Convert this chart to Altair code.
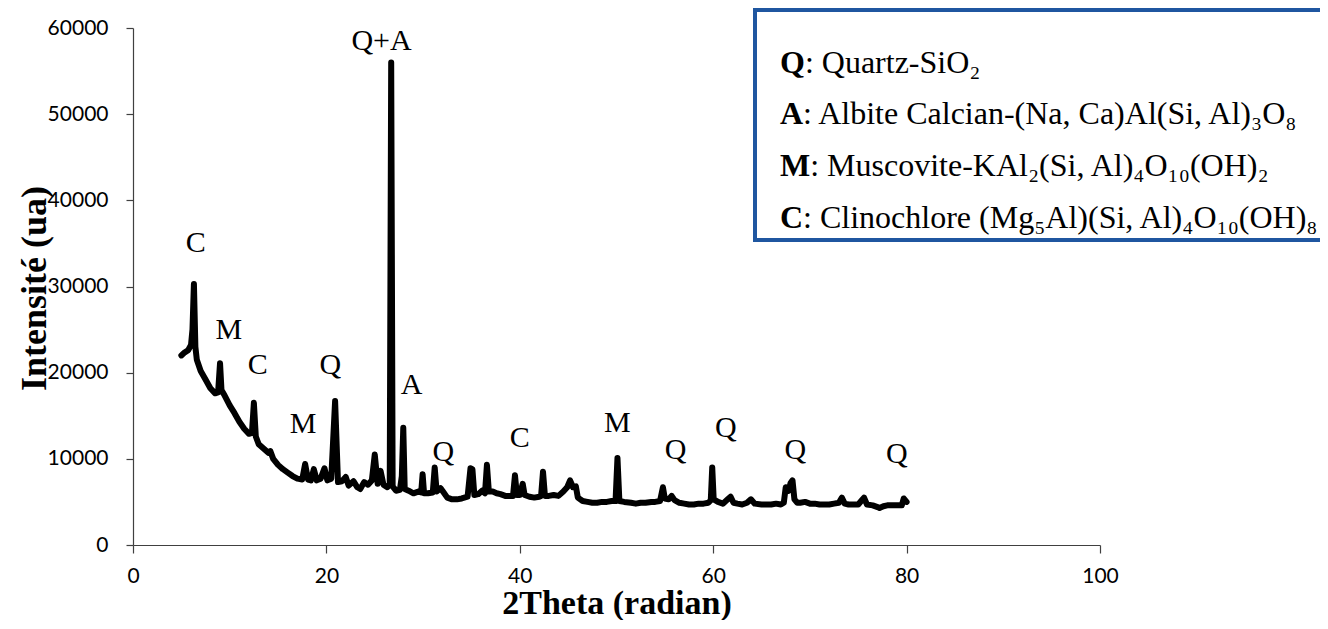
import altair as alt
import pandas as pd

# ---- XRD pattern ----
two_theta = [
    5.0, 5.3, 5.7, 6.0, 6.15, 6.3, 6.45, 6.6, 7.0, 7.5, 8.0, 8.5, 8.8, 9.0, 9.15, 9.4,
    10.0, 10.5, 11.0, 11.5, 12.0, 12.3, 12.5, 12.7, 13.0, 13.5, 14.0, 14.2, 14.5, 15.0,
    15.5, 16.0, 16.5, 17.0, 17.5, 17.8, 18.1, 18.4, 18.7, 19.0, 19.4, 19.8, 20.1, 20.5,
    20.9, 21.2, 21.6, 22.0, 22.3, 22.8, 23.2, 23.5, 23.9, 24.3, 24.7, 25.0, 25.3, 25.6,
    25.9, 26.3, 26.55, 26.7, 26.85, 27.2, 27.6, 27.8, 27.95, 28.1, 28.5, 29.0, 29.5, 29.8,
    29.95, 30.1, 30.5, 31.0, 31.2, 31.4, 31.8, 32.0, 32.5, 33.0, 33.5, 34.0, 34.6, 34.9,
    35.1, 35.3, 35.7, 36.1, 36.4, 36.6, 36.8, 37.2, 37.6, 38.0, 38.5, 39.0, 39.3, 39.5,
    39.7, 40.0, 40.3, 40.5, 41.0, 41.5, 42.0, 42.2, 42.4, 42.6, 43.0, 43.5, 44.0, 44.5,
    44.9, 45.2, 45.5, 45.8, 46.0, 46.5, 47.0, 47.5, 48.0, 48.5, 49.0, 49.5, 49.9, 50.1,
    50.3, 50.8, 51.5, 52.0, 52.5, 53.0, 53.6, 54.0, 54.5, 54.8, 55.0, 55.4, 55.7, 56.0,
    56.5, 57.0, 57.5, 58.0, 58.5, 59.0, 59.5, 59.75, 59.9, 60.05, 60.5, 61.0, 61.5, 61.8,
    62.1, 62.5, 63.0, 63.5, 63.9, 64.3, 65.0, 65.5, 66.0, 66.5, 67.0, 67.3, 67.5, 67.8,
    68.0, 68.2, 68.4, 68.7, 69.0, 69.5, 70.0, 70.5, 71.0, 71.5, 72.0, 72.5, 73.0, 73.3,
    73.6, 74.0, 74.5, 75.0, 75.3, 75.6, 75.9, 76.5, 77.0, 77.2, 77.6, 78.0, 78.5, 79.0,
    79.5, 79.7, 80.0,
]
intensity = [
    22000, 22300, 22600, 23200, 25000, 30300, 23000, 21500, 20200, 19200, 18200, 17600, 17700, 21100, 18000, 17500,
    16200, 15300, 14300, 13500, 12900, 13000, 16500, 12600, 11700, 11200, 10700, 10900, 10000, 9300,
    8800, 8400, 8000, 7700, 7600, 9400, 7600, 7500, 8800, 7500, 7700, 8900, 7500, 7700,
    16700, 7300, 7400, 7900, 6900, 7400, 6700, 6500, 7300, 7000, 7500, 10500, 7100, 8600,
    7000, 6700, 7000, 56000, 6800, 6300, 6400, 8000, 13600, 6500, 6300, 6000, 6200, 6100,
    8200, 6000, 6000, 6100, 9000, 6200, 6600, 6300, 5500, 5300, 5300, 5400, 5600, 8900,
    8800, 5800, 5900, 6300, 6000, 9300, 6200, 6200, 6000, 5900, 5700, 5700, 5700, 8100,
    5800, 5800, 7100, 5800, 5600, 5500, 5600, 5700, 8500, 5700, 5700, 5800, 5700, 6200,
    6700, 7500, 6700, 6800, 5500, 5100, 5000, 4900, 4900, 5000, 5000, 5100, 5100, 10100,
    5100, 5000, 4900, 4800, 4900, 4900, 5000, 5000, 5100, 6700, 5400, 5300, 5700, 5200,
    4900, 4800, 4700, 4700, 4800, 4800, 4900, 5200, 9000, 5300, 5000, 4800, 5300, 5600,
    4900, 4800, 4700, 4900, 5300, 4800, 4700, 4700, 4700, 4800, 4700, 4900, 6700, 6300,
    7200, 7500, 5300, 4900, 4900, 5000, 4800, 4800, 4700, 4700, 4700, 4800, 4900, 5500,
    4800, 4700, 4700, 4700, 5100, 5500, 4700, 4600, 4400, 4300, 4500, 4600, 4600, 4600,
    4600, 5400, 5000,
]

# ---- peak annotations ----
peak_labels = ["C", "M", "C", "M", "Q", "Q+A", "A", "Q", "C", "M", "Q", "Q", "Q", "Q"]
peak_label_x = [6.5, 9.9, 12.9, 17.6, 20.4, 25.7, 28.8, 32.1, 40.0, 50.1, 56.1, 61.3, 68.5, 79.0]
peak_label_y = [35100, 25000, 20900, 14000, 20900, 58500, 18600, 10800, 12400, 14200, 11000, 13600, 11000, 10600]

# ---- legend text ----
legend_letters = ["Q", "A", "M", "C"]
legend_texts = [
    ": Quartz-SiO\u2082",
    ": Albite Calcian-(Na, Ca)Al(Si, Al)\u2083O\u2088",
    ": Muscovite-KAl\u2082(Si, Al)\u2084O\u2081\u2080(OH)\u2082",
    ": Clinochlore (Mg\u2085Al)(Si, Al)\u2084O\u2081\u2080(OH)\u2088",
]

x_ticks = [0, 20, 40, 60, 80, 100]
y_ticks = [0, 10000, 20000, 30000, 40000, 50000, 60000]

W, H = 967, 517
SERIF = "Liberation Serif"

xs = alt.Scale(domain=[0, 100], nice=False, zero=False)
ys = alt.Scale(domain=[0, 60000], nice=False)

x_axis = alt.Axis(
    values=x_ticks, title="2Theta (radian)", titleY=68, titleBaseline="alphabetic",
    titleFontSize=34,
    tickSize=8, labelPadding=12, labelFlush=False, labelOverlap=False, grid=False,
)
y_axis = alt.Axis(
    values=y_ticks, format="d", title="Intensité (ua)", titleX=-88, titleY=260,
    titleAngle=270, titleBaseline="alphabetic", titleAlign="center",
    tickSize=7, labelPadding=18, labelFlush=False, labelOverlap=False, grid=False,
)

df = pd.DataFrame({"t": two_theta, "i": intensity})
lab_df = pd.DataFrame({"t": peak_label_x, "i": peak_label_y, "lab": peak_labels})

line = alt.Chart(df).mark_line(
    color="black", strokeWidth=6, strokeJoin="round", strokeCap="round"
).encode(
    x=alt.X("t:Q", scale=xs, axis=x_axis),
    y=alt.Y("i:Q", scale=ys, axis=y_axis),
)

peaks = alt.Chart(lab_df).mark_text(
    font=SERIF, fontSize=30, align="center", baseline="middle", color="black"
).encode(
    x=alt.X("t:Q", scale=xs, axis=x_axis),
    y=alt.Y("i:Q", scale=ys, axis=y_axis),
    text="lab:N",
)

box = alt.Chart(pd.DataFrame({"k": [0]})).mark_rect(
    fill="white", fillOpacity=0, stroke="#1f56a0", strokeWidth=4
).encode(
    x=alt.value(622), x2=alt.value(1200), y=alt.value(-18), y2=alt.value(212)
)

legend_layers = []
bold_widths = {"Q": 0.778, "A": 0.722, "M": 0.944, "C": 0.722}
for i, (letter, txt) in enumerate(zip(legend_letters, legend_texts)):
    by = 44.6 + 51.7 * i
    legend_layers.append(
        alt.Chart(pd.DataFrame({"s": [letter]})).mark_text(
            font=SERIF, fontSize=32, fontWeight="bold", align="left",
            baseline="alphabetic", color="black"
        ).encode(x=alt.value(647), y=alt.value(by), text="s:N")
    )
    legend_layers.append(
        alt.Chart(pd.DataFrame({"s": [txt]})).mark_text(
            font=SERIF, fontSize=32, align="left", baseline="alphabetic", color="black"
        ).encode(x=alt.value(647 + bold_widths[letter] * 32), y=alt.value(by), text="s:N")
    )

chart = alt.layer(line, peaks, box, *legend_layers).properties(
    width=W, height=H,
    padding={"left": 125, "top": 20, "right": 220, "bottom": 75},
    autosize=alt.AutoSizeParams(type="none"),
).configure_view(stroke=None).configure_axis(
    grid=False,
    domainColor="#404040", domainWidth=1.2,
    tickColor="#404040", tickWidth=1.2,
    labelColor="black", labelFont="Lato", labelFontSize=21,
    titleColor="black", titleFont=SERIF, titleFontSize=36, titleFontWeight="bold",
)

chart.save("out.html", embed_options={"renderer": "svg", "actions": False})
